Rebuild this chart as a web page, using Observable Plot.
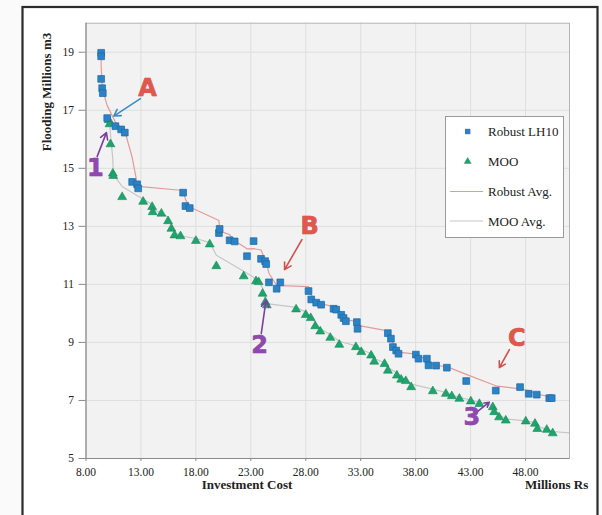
<!DOCTYPE html>
<html><head><meta charset="utf-8">
<script src="https://cdn.jsdelivr.net/npm/d3@7"></script>
<script src="https://cdn.jsdelivr.net/npm/@observablehq/plot@0.6"></script>
<style>body{margin:0;background:#fafafa;} #chart svg{display:block}</style>
</head><body><div id="chart"></div>
<script>
// Robust LH10 (blue squares), sorted by investment cost
const robustCost = [9.38,9.38,9.38,9.47,9.53,9.93,10.68,11.20,11.53,12.20,12.65,12.75,16.84,17.05,17.44,20.10,20.16,21.07,21.53,22.65,23.25,23.93,24.30,24.40,24.65,25.35,25.68,28.25,28.50,28.95,29.40,30.53,30.77,31.23,31.44,31.65,32.65,32.71,35.47,35.75,35.93,36.23,36.44,38.02,38.26,39.02,39.17,39.86,40.84,42.60,45.29,47.50,48.29,49.02,50.16,50.38];
const robustFlood = [18.98,18.86,18.08,17.76,17.59,16.73,16.45,16.34,16.23,14.53,14.45,14.31,14.16,13.70,13.63,12.77,12.91,12.52,12.48,11.97,12.49,11.88,11.80,11.70,11.07,10.85,11.07,10.77,10.48,10.37,10.30,10.16,10.13,9.95,9.84,9.73,9.70,9.47,9.32,9.13,8.84,8.72,8.61,8.58,8.44,8.44,8.21,8.20,8.13,7.67,7.34,7.46,7.23,7.20,7.08,7.08];
// MOO (green triangles), sorted by investment cost (last one lies past the axis end)
const mooCost = [10.07,10.14,10.23,10.44,10.48,11.29,13.20,14.02,14.07,14.86,15.47,15.77,16.05,16.60,18.00,19.26,19.86,22.35,23.47,23.71,24.07,24.32,24.45,27.12,28.00,28.45,28.86,29.32,30.23,31.05,32.56,33.05,33.95,34.23,35.17,35.47,36.29,36.68,37.10,37.59,39.56,40.75,41.29,41.98,43.02,43.80,45.02,45.14,45.59,46.20,48.02,48.86,49.07,49.93,50.47,53.50];
const mooFlood = [16.66,16.52,15.83,14.82,14.74,14.01,13.85,13.67,13.49,13.44,13.18,12.92,12.69,12.66,12.50,12.38,11.63,11.28,11.11,11.08,10.68,10.39,10.28,10.14,9.95,9.84,9.56,9.38,9.16,8.92,8.84,8.67,8.55,8.34,8.26,8.03,7.86,7.72,7.67,7.46,7.32,7.23,7.15,7.06,6.97,6.88,6.77,6.60,6.42,6.31,6.28,6.20,6.02,5.99,5.87,5.80];

const xTicks = [8,13,18,23,28,33,38,43,48];
const yTicks = [5,7,9,11,13,15,17,19];
const seriesNames = ["Robust LH10","MOO","Robust Avg.","MOO Avg."];
const xTitle = "Investment Cost";
const xUnit = "Millions Rs";
const yTitle = "Flooding Millions m3";

// annotations
const noteLabel = ["A","1","B","2","C","3"];
const noteX = [13.59,8.86,28.35,23.8,47.2,43.11];
const noteY = [17.76,14.99,13.01,8.9,9.13,6.42];
const arrowX1 = [12.95,9.02,27.65,23.95,46.53,43.56];
const arrowY1 = [17.40,15.41,12.54,9.30,8.75,6.60];
const arrowX2 = [10.53,9.86,26.07,24.38,45.62,44.70];
const arrowY2 = [16.80,16.23,11.51,10.45,8.13,6.94];
const noteKind = ["letter","digit","letter","digit","letter","digit"];
const arrowColor = ["#3a8ec8","#7b3fa0","#d0504a","#7b3fa0","#d0504a","#7b3fa0"];

const robust = robustCost.map((x,i)=>({x, y: robustFlood[i]}));
const moo = mooCost.map((x,i)=>({x, y: mooFlood[i]}));
const notes = noteLabel.map((t,i)=>({t, x:noteX[i], y:noteY[i], x1:arrowX1[i], y1:arrowY1[i], x2:arrowX2[i], y2:arrowY2[i], kind:noteKind[i], c:arrowColor[i]}));

const BLUE = "#2b82c4", GREEN = "#1ea56e", PINK = "#e59a9a", GRAY = "#c6c6c6";
const font = "'Liberation Serif', serif";

const plot = Plot.plot({
  width: 602, height: 515,
  marginLeft: 85.5, marginRight: 33, marginTop: 22.7, marginBottom: 57,
  x: {domain: [8,52]},
  y: {domain: [5,20]},
  style: {fontFamily: font, fontSize: "11.5px", background: "transparent", color: "#222"},
  marks: [
    Plot.frame({fill: "#f2f2f2", stroke: "none"}),
    Plot.gridX(xTicks, {stroke: "#dedede", strokeOpacity: 1}),
    Plot.gridY(yTicks, {stroke: "#dedede", strokeOpacity: 1}),
    Plot.frame({stroke: "#b4b4b4"}),
    Plot.ruleX([8], {stroke: "#8a8a8a"}),
    Plot.ruleY([5], {stroke: "#8a8a8a"}),
    Plot.axisX(xTicks, {tickFormat: d3.format(".2f"), tickSize: 3, tickPadding: 6, label: null, stroke: "#8a8a8a", fill: "#222"}),
    Plot.axisY(yTicks, {tickSize: 7, tickPadding: 5, label: null, stroke: "#8a8a8a", fill: "#222"}),
    Plot.line(moo, Plot.windowY({k: 2, anchor: "end", strict: true, reduce: "mean"}, {x: "x", y: "y", stroke: GRAY, strokeWidth: 1.2, clip: true})),
    Plot.line(robust, Plot.windowY({k: 2, anchor: "end", strict: true, reduce: "mean"}, {x: "x", y: "y", stroke: PINK, strokeWidth: 1.2, clip: true})),
    Plot.dot(moo, {x: "x", y: "y", symbol: "triangle", r: 3.3, fill: GREEN, stroke: "#178a5b", strokeWidth: 0.6, clip: true}),
    Plot.dot(robust, {x: "x", y: "y", symbol: "square", r: 3.8, fill: BLUE, stroke: "#1d6aa8", strokeWidth: 0.7, clip: true}),
    Plot.arrow(notes, {x1: "x1", y1: "y1", x2: "x2", y2: "y2", stroke: "c", strokeWidth: 1.6, headLength: 7}),
    Plot.text(notes.filter(d=>d.kind==="letter"), {x: "x", y: "y", text: "t", fill: "#e2574c", stroke: "#b83c34", strokeWidth: 0.6, fontSize: 24, fontWeight: "bold", fontFamily: "'DejaVu Sans', sans-serif"}),
    Plot.text(notes.filter(d=>d.kind==="digit"), {x: "x", y: "y", text: "t", fill: "#9048b0", stroke: "#6e2f8c", strokeWidth: 0.6, fontSize: 24, fontWeight: "bold", fontFamily: "'DejaVu Sans', sans-serif"})
  ]
});

const svg = d3.select(plot);
// outer frame behind everything
svg.insert("rect", ":first-child")
  .attr("x", 22.5).attr("y", 7).attr("width", 575).attr("height", 530)
  .attr("fill", "#ffffff").attr("stroke", "#2a2a2a").attr("stroke-width", 2.2);

// axis titles
svg.append("text").attr("x", 247).attr("y", 489).attr("text-anchor", "middle")
  .attr("font-family", font).attr("font-weight", "bold").attr("font-size", 13).attr("fill", "#222").text(xTitle);
svg.append("text").attr("x", 525).attr("y", 489).attr("text-anchor", "start")
  .attr("font-family", font).attr("font-weight", "bold").attr("font-size", 13).attr("fill", "#222").text(xUnit);
svg.append("text").attr("transform", "translate(51,92) rotate(-90)").attr("text-anchor", "middle")
  .attr("font-family", font).attr("font-weight", "bold").attr("font-size", 13).attr("fill", "#222").text(yTitle);

// legend
const lg = svg.append("g").attr("font-family", font).attr("font-size", 13).attr("fill", "#222").attr("text-anchor", "start");
lg.append("rect").attr("x", 445.5).attr("y", 116.5).attr("width", 118).attr("height", 121)
  .attr("fill", "#ffffff").attr("stroke", "#9a9a9a");
const rows = [131.5, 161.5, 191.5, 221];
lg.append("rect").attr("x", 465).attr("y", rows[0]-2.7).attr("width", 5.4).attr("height", 5.4).attr("fill", BLUE);
lg.append("path").attr("d", d3.symbol(d3.symbolTriangle, 26)()).attr("transform", `translate(467.7,${rows[1]})`).attr("fill", GREEN);
lg.append("line").attr("x1", 450).attr("x2", 483).attr("y1", rows[2]).attr("y2", rows[2]).attr("stroke", PINK).attr("stroke-width", 1.2);
lg.append("line").attr("x1", 450).attr("x2", 483).attr("y1", rows[3]).attr("y2", rows[3]).attr("stroke", GRAY).attr("stroke-width", 1.2);
seriesNames.forEach((n,i)=>{
  lg.append("text").attr("x", 488).attr("y", rows[i]).attr("dy", "0.35em").attr("text-anchor", "start").text(n);
});

document.getElementById("chart").appendChild(plot);
</script>
</body></html>
